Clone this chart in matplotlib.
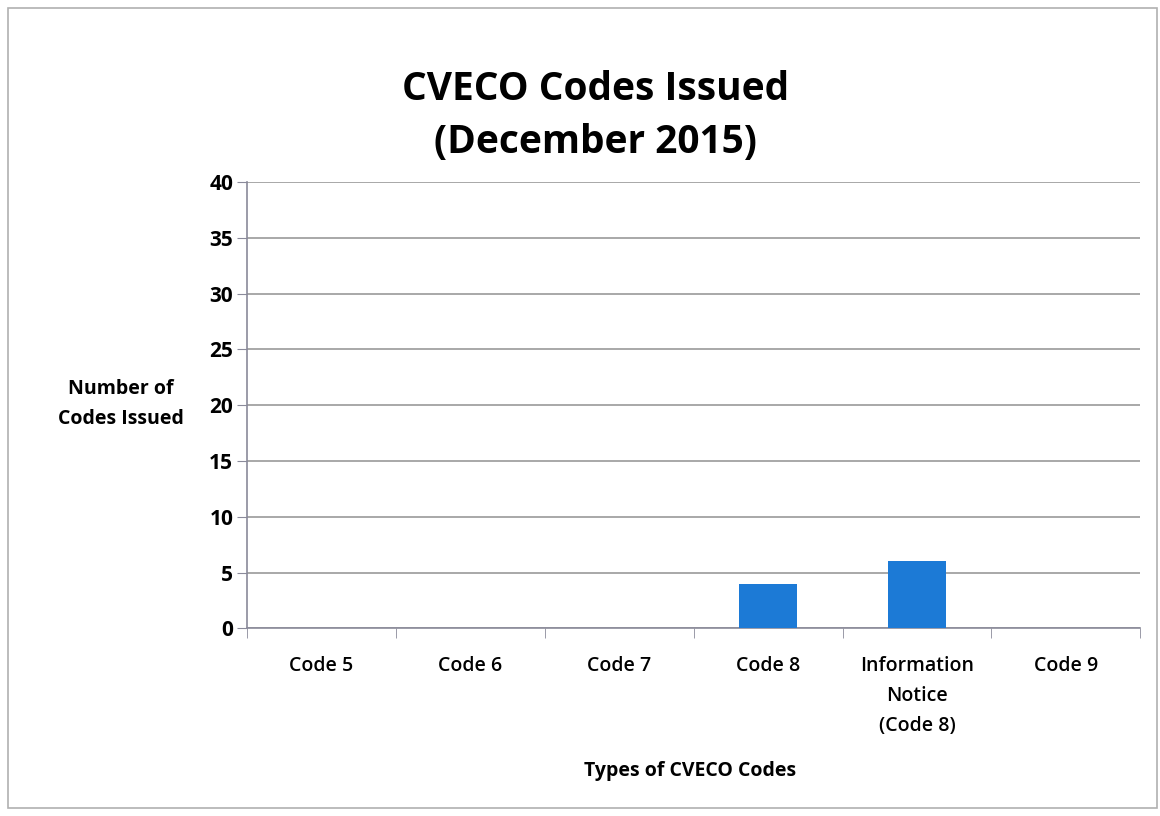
import matplotlib.pyplot as plt
from matplotlib.patches import Rectangle

categories = ['Code 5', 'Code 6', 'Code 7', 'Code 8', 'Information\nNotice\n(Code 8)', 'Code 9']
codes_issued = [0, 0, 0, 4, 6, 0]
y_ticks = [0, 5, 10, 15, 20, 25, 30, 35, 40]

plt.rcParams['font.family'] = ['Open Sans', 'DejaVu Sans']

fig = plt.figure(figsize=(11.6, 8.16), dpi=100)
fig.patches.append(Rectangle((0.007, 0.01), 0.99, 0.98, transform=fig.transFigure,
                             fill=False, edgecolor='#b0b0b0', linewidth=1.2))

ax = fig.add_axes([0.213, 0.230, 0.77, 0.547])
x = range(len(categories))
ax.bar(x, codes_issued, width=0.39, color='#1c7ad6', zorder=3)

ax.set_xlim(-0.5, len(categories) - 0.5)
ax.set_ylim(0, 40)
ax.set_yticks(y_ticks)
ax.set_yticklabels([str(v) for v in y_ticks], fontsize=15, fontweight='bold')
ax.yaxis.grid(True, color='#9a9a9a', linewidth=1.2, zorder=0)
ax.tick_params(axis='y', length=7, color='#8a8a9a', pad=3)

ax.set_xticks(x)
ax.set_xticklabels(categories, fontsize=14, fontweight='semibold', linespacing=1.65)
ax.tick_params(axis='x', length=0, pad=20)
# category separator ticks
ax.set_xticks([i - 0.5 for i in range(len(categories) + 1)], minor=True)
ax.tick_params(axis='x', which='minor', length=7, color='#8a8a9a')

for side in ['top', 'right']:
    ax.spines[side].set_visible(False)
ax.spines['left'].set_color('#8a8a9a')
ax.spines['bottom'].set_color('#8a8a9a')
ax.spines['left'].set_linewidth(1.2)
ax.spines['bottom'].set_linewidth(1.2)

fig.text(0.513, 0.858, 'CVECO Codes Issued\n(December 2015)', ha='center', va='center',
         fontsize=28, fontweight='bold', linespacing=1.45)
fig.text(0.104, 0.505, 'Number of\nCodes Issued', ha='center', va='center',
         fontsize=14, fontweight='bold', linespacing=1.7)
fig.text(0.595, 0.055, 'Types of CVECO Codes', ha='center', va='center',
         fontsize=14, fontweight='bold')

fig.savefig('out.png', dpi=100)
